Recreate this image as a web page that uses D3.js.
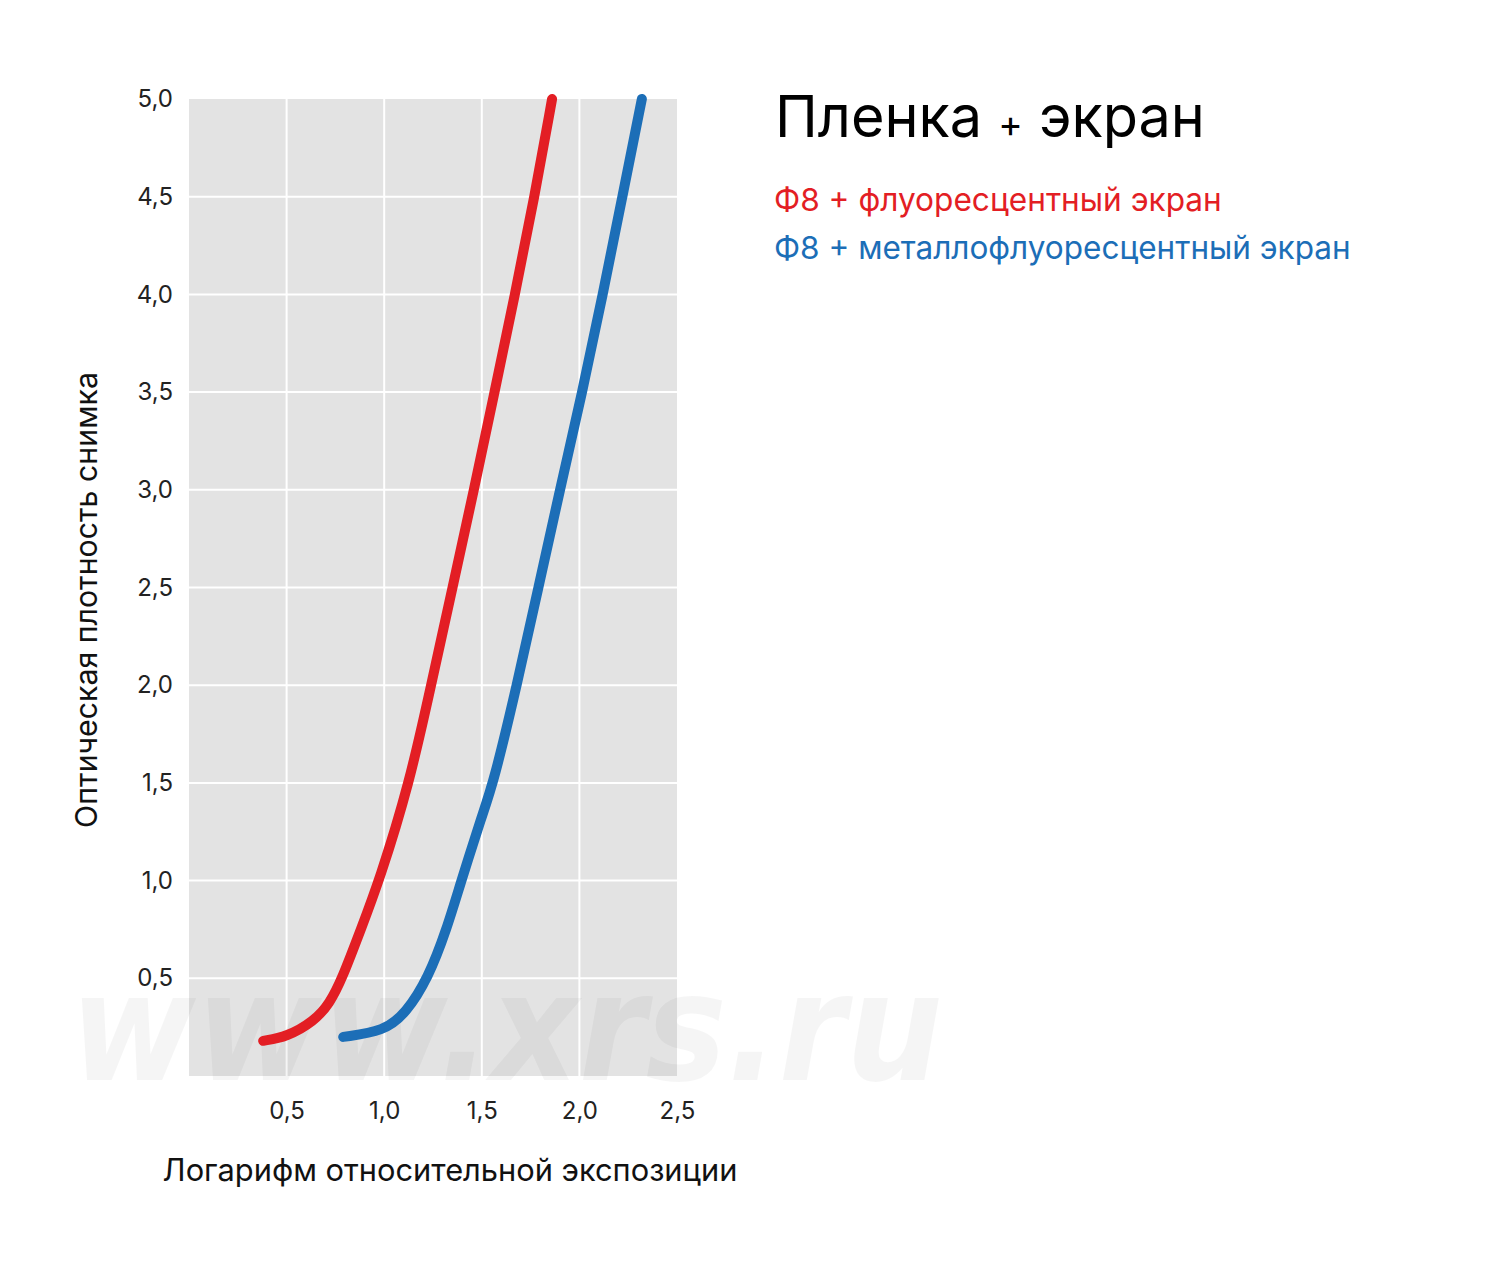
<!DOCTYPE html>
<html><head><meta charset="utf-8">
<script src="https://cdn.jsdelivr.net/npm/d3@7"></script>
<style>body{margin:0;background:#fff}svg{display:block}</style>
</head><body>
<svg id="c" width="1500" height="1266"></svg>
<script>
const title = "Пленка + экран";
const seriesNames = ["Ф8 + флуоресцентный экран", "Ф8 + металлофлуоресцентный экран"];
const seriesColors = ["#e31e24", "#1c6eb7"];
const xTicks = [0.5, 1.0, 1.5, 2.0, 2.5];
const yTicks = [0.5, 1.0, 1.5, 2.0, 2.5, 3.0, 3.5, 4.0, 4.5, 5.0];
const xLabel = "Логарифм относительной экспозиции";
const yLabel = "Оптическая плотность снимка";
const watermark = "www.xrs.ru";

const redX = [0.38, 0.50, 0.64, 0.72, 0.785, 0.88, 0.975, 1.13, 1.24, 1.35, 1.46, 1.565, 1.67, 1.77, 1.86];
const redY = [0.18, 0.20, 0.28, 0.37, 0.50, 0.75, 1.00, 1.50, 2.00, 2.50, 3.00, 3.50, 4.00, 4.50, 5.00];
const blueX = [0.79, 1.00, 1.11, 1.225, 1.32, 1.395, 1.50, 1.56, 1.68, 1.79, 1.90, 2.015, 2.12, 2.22, 2.32];
const blueY = [0.20, 0.23, 0.32, 0.50, 0.75, 1.00, 1.33, 1.50, 2.00, 2.50, 3.00, 3.50, 4.00, 4.50, 5.00];

const FONT = "Inter, 'Noto Sans', sans-serif";
const svg = d3.select("#c");
const x = d3.scaleLinear().domain([0, 2.5]).range([189, 677]);
const y = d3.scaleLinear().domain([0, 5]).range([1076, 99]);
const fmt = v => d3.format(".1f")(v).replace(".", ",");

svg.append("rect").attr("x", x(0)).attr("y", y(5)).attr("width", x(2.5) - x(0)).attr("height", y(0) - y(5)).attr("fill", "#e3e3e3");

svg.append("g").selectAll("line").data(xTicks.slice(0, -1)).join("line")
  .attr("x1", d => x(d)).attr("x2", d => x(d)).attr("y1", y(0)).attr("y2", y(5))
  .attr("stroke", "#fff").attr("stroke-width", 2);
svg.append("g").selectAll("line").data(yTicks.slice(0, -1)).join("line")
  .attr("x1", x(0)).attr("x2", x(2.5)).attr("y1", d => y(d)).attr("y2", d => y(d))
  .attr("stroke", "#fff").attr("stroke-width", 2);

svg.append("text").text(watermark)
  .attr("x", 70).attr("y", 1080)
  .attr("font-family", "'DejaVu Sans', sans-serif").attr("font-weight", "bold").attr("font-style", "italic")
  .attr("font-size", 150).attr("textLength", 873).attr("lengthAdjust", "spacingAndGlyphs")
  .attr("fill", "rgba(0,0,0,0.04)");

const xAxis = svg.append("g").attr("transform", `translate(0,${y(0)})`)
  .call(d3.axisBottom(x).tickValues(xTicks).tickFormat(fmt).tickSize(0).tickPadding(26));
xAxis.select(".domain").remove();
xAxis.selectAll("text").attr("font-family", FONT).attr("font-size", 24).attr("fill", "#222");

const yAxis = svg.append("g").attr("transform", `translate(${x(0)},0)`)
  .call(d3.axisLeft(y).tickValues(yTicks).tickFormat(fmt).tickSize(0).tickPadding(16));
yAxis.select(".domain").remove();
yAxis.selectAll("text").attr("font-family", FONT).attr("font-size", 24).attr("fill", "#222");

const line = d3.line().x(d => x(d[0])).y(d => y(d[1])).curve(d3.curveBasis);
const series = [d3.zip(redX, redY), d3.zip(blueX, blueY)];
svg.append("g").selectAll("path").data(series).join("path")
  .attr("d", line).attr("fill", "none")
  .attr("stroke", (d, i) => seriesColors[i]).attr("stroke-width", 10)
  .attr("stroke-linecap", "round").attr("stroke-linejoin", "round");

function fit(sel, w) {
  const n = sel.node(); const fs = +sel.attr("font-size");
  const L = n.getComputedTextLength();
  sel.attr("font-size", fs * w / L);
}

const xt = svg.append("text").text(xLabel).attr("x", 450).attr("y", 1181)
  .attr("text-anchor", "middle").attr("font-family", FONT).attr("font-size", 27).attr("fill", "#111");
fit(xt, 575);
const yt = svg.append("text").text(yLabel)
  .attr("transform", "translate(97,600) rotate(-90)")
  .attr("text-anchor", "middle").attr("font-family", FONT).attr("font-size", 27).attr("fill", "#111");
fit(yt, 456);

const tt = svg.append("text").attr("x", 775).attr("y", 137)
  .attr("font-family", FONT).attr("fill", "#000");
tt.append("tspan").text("Пленка ").attr("font-size", 56);
tt.append("tspan").text("+").attr("font-size", 36);
tt.append("tspan").text(" экран").attr("font-size", 56);
{
  const L = tt.node().getComputedTextLength();
  const k = 430 / L;
  tt.selectAll("tspan").each(function () {
    const s = d3.select(this); s.attr("font-size", +s.attr("font-size") * k);
  });
}

seriesNames.forEach((s, i) => {
  const t = svg.append("text").text(s).attr("x", 774).attr("y", 211 + i * 48)
    .attr("font-family", FONT).attr("font-size", 28).attr("fill", seriesColors[i]);
  fit(t, i === 0 ? 448 : 577);
});
</script>
</body></html>
